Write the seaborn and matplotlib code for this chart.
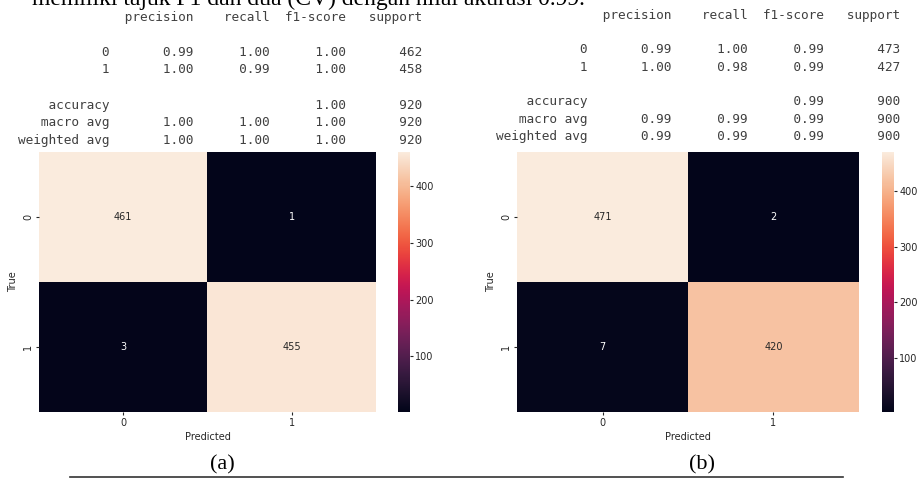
import numpy as np
import matplotlib
matplotlib.use('Agg')
import matplotlib.pyplot as plt
import seaborn as sns

# confusion matrices
cm_a = [[461, 1], [3, 455]]
cm_b = [[471, 2], [7, 420]]
class_labels = ['0', '1']

# classification report (a)
precision_a = [0.99, 1.00]
recall_a = [1.00, 0.99]
f1_a = [1.00, 1.00]
support_a = [462, 458]
accuracy_a = 1.00
macro_a = [1.00, 1.00, 1.00]
weighted_a = [1.00, 1.00, 1.00]
total_a = 920

# classification report (b)
precision_b = [0.99, 1.00]
recall_b = [1.00, 0.98]
f1_b = [0.99, 0.99]
support_b = [473, 427]
accuracy_b = 0.99
macro_b = [0.99, 0.99, 0.99]
weighted_b = [0.99, 0.99, 0.99]
total_b = 900

W, H = 920, 478
plt.rcParams['font.size'] = 7
plt.rcParams['text.color'] = '#262626'
plt.rcParams['axes.labelcolor'] = '#262626'
plt.rcParams['xtick.color'] = '#262626'
plt.rcParams['ytick.color'] = '#262626'
plt.rcParams['xtick.major.size'] = 2.2
plt.rcParams['ytick.major.size'] = 2.2
plt.rcParams['xtick.major.pad'] = 2
plt.rcParams['ytick.major.pad'] = 2
plt.rcParams['axes.labelpad'] = 3

fig = plt.figure(figsize=(W / 100, H / 100), dpi=100)


def px_axes(x0, y0, x1, y1):
    return fig.add_axes([x0 / W, 1 - y1 / H, (x1 - x0) / W, (y1 - y0) / H])


def report_lines(prec, rec, f1, sup, acc, macro, weighted, total):
    lines = [' ' * 13 + ''.join(' {:>9}'.format(h) for h in ['precision', 'recall', 'f1-score', 'support']), '']
    for lab, p, r, f, s in zip(class_labels, prec, rec, f1, sup):
        lines.append('{:>12} '.format(lab) + ' {:>9.2f} {:>9.2f} {:>9.2f} {:>9}'.format(p, r, f, s))
    lines.append('')
    lines.append('{:>12} '.format('accuracy') + ' ' * 20 + ' {:>9.2f} {:>9}'.format(acc, total))
    lines.append('{:>12} '.format('macro avg') + ' {:>9.2f} {:>9.2f} {:>9.2f} {:>9}'.format(*macro, total))
    lines.append('{:>12} '.format('weighted avg') + ' {:>9.2f} {:>9.2f} {:>9.2f} {:>9}'.format(*weighted, total))
    return lines


def draw_report(lines, x, y0, pitch):
    for i, line in enumerate(lines):
        fig.text(x / W, 1 - (y0 + pitch * i) / H, line, family='DejaVu Sans Mono',
                 fontsize=9.2, color='#404040', ha='left', va='center')


draw_report(report_lines(precision_a, recall_a, f1_a, support_a, accuracy_a, macro_a, weighted_a, total_a),
            18, 17, 17.6)
draw_report(report_lines(precision_b, recall_b, f1_b, support_b, accuracy_b, macro_b, weighted_b, total_b),
            496, 15, 17.4)

# heatmaps
panels = [(cm_a, (39, 152, 376, 412), (398, 152, 410, 412)),
          (cm_b, (517, 152, 859, 412), (882, 152, 894, 412))]
for cm, box, cbox in panels:
    ax = px_axes(*box)
    cax = px_axes(*cbox)
    sns.heatmap(np.array(cm), annot=True, fmt='d', cmap='rocket', ax=ax, cbar_ax=cax,
                xticklabels=class_labels, yticklabels=class_labels, annot_kws={'size': 7})
    ax.set_xlabel('Predicted')
    ax.set_ylabel('True', labelpad=4)
    cax.tick_params(labelsize=7, length=2.2, pad=1.5)

# captions and page bits
fig.text(222 / W, 1 - 465 / H, '(a)', family='Liberation Serif', fontsize=16, color='black',
         ha='center', va='center')
fig.text(702 / W, 1 - 465 / H, '(b)', family='Liberation Serif', fontsize=16, color='black',
         ha='center', va='center')
fig.text(585 / W, 1 - 5 / H, 'memiliki tajuk F1 dan dua (CV) dengan nilai akurasi 0.99.',
         family='Liberation Serif', fontsize=17, color='black', ha='right', va='baseline')
fig.add_artist(plt.Line2D([70 / W, 843 / W], [1 - 476.5 / H, 1 - 476.5 / H], color='#333333', lw=1.2))

fig.savefig('out.png', dpi=100)
